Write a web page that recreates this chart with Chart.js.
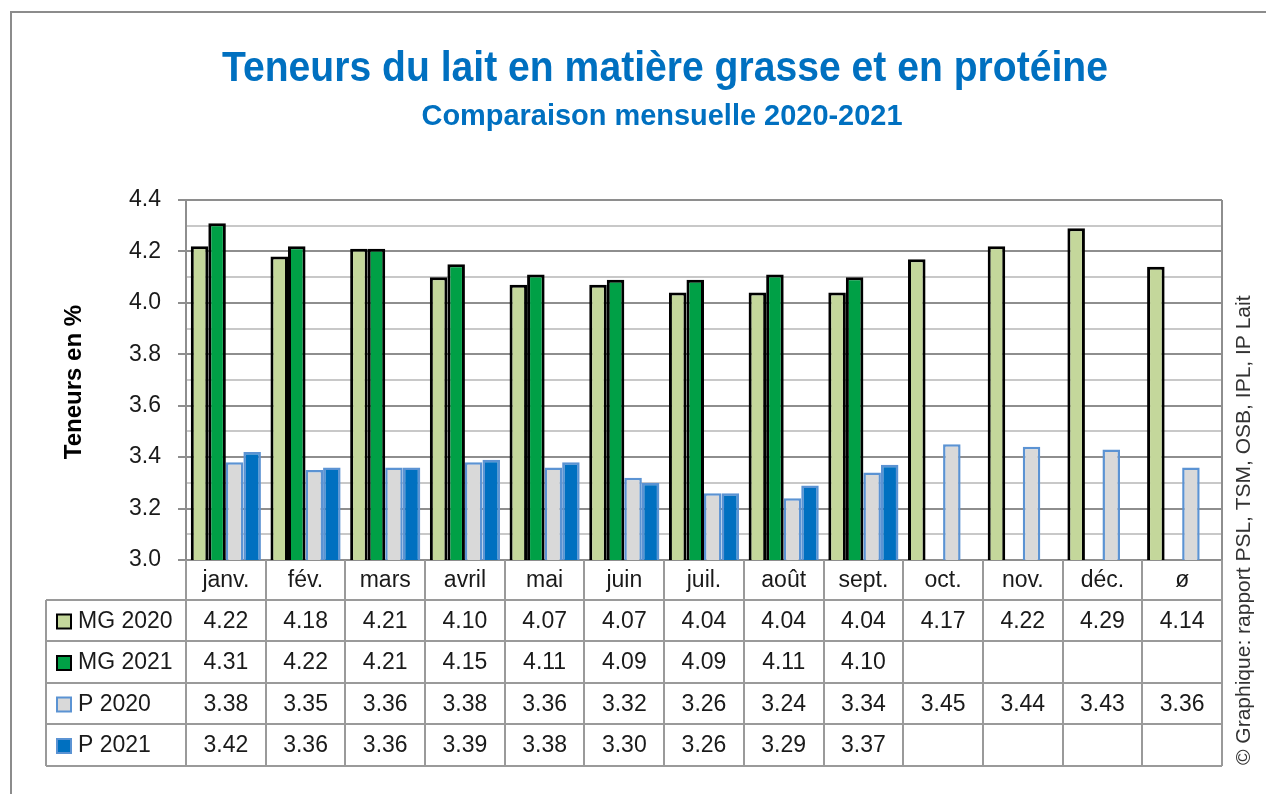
<!DOCTYPE html>
<html>
<head>
<meta charset="utf-8">
<script src="https://cdn.jsdelivr.net/npm/chart.js@4/dist/chart.umd.min.js"></script>
<style>
  html, body { margin: 0; padding: 0; background: #ffffff; }
  #wrap { position: relative; width: 1266px; height: 794px; }
</style>
</head>
<body>
<div id="wrap"><canvas id="c" width="1266" height="794"></canvas></div>
<script>
// ---- Data ----
const categories = ['janv.', 'fév.', 'mars', 'avril', 'mai', 'juin', 'juil.', 'août', 'sept.', 'oct.', 'nov.', 'déc.', 'ø'];
const mg2020 = [4.22, 4.18, 4.21, 4.10, 4.07, 4.07, 4.04, 4.04, 4.04, 4.17, 4.22, 4.29, 4.14];
const mg2021 = [4.31, 4.22, 4.21, 4.15, 4.11, 4.09, 4.09, 4.11, 4.10, null, null, null, null];
const p2020  = [3.38, 3.35, 3.36, 3.38, 3.36, 3.32, 3.26, 3.24, 3.34, 3.45, 3.44, 3.43, 3.36];
const p2021  = [3.42, 3.36, 3.36, 3.39, 3.38, 3.30, 3.26, 3.29, 3.37, null, null, null, null];
const seriesNames = ['MG 2020', 'MG 2021', 'P 2020', 'P 2021'];
const yMin = 3.0, yMax = 4.4, yStep = 0.1;

const titleText = 'Teneurs du lait en matière grasse et en protéine';
const subtitleText = 'Comparaison mensuelle 2020-2021';
const yTitle = 'Teneurs en %';
const sourceText = '© Graphique: rapport PSL, TSM, OSB, IPL, IP Lait';

const FONT = '"Liberation Sans", Arial, "DejaVu Sans", sans-serif';
const BLUE = '#0070C0';
const GRID_MAJOR = '#8e8e8e';
const GRID_MINOR = '#c8c8c8';
const TABLE_LINE = '#9a9a9a';

const decorPlugin = {
  id: 'decor',
  afterDraw(chart) {
    const ctx = chart.ctx;
    const area = chart.chartArea;
    const xs = chart.scales.x;
    const n = categories.length;
    const colW = (area.right - area.left) / n;
    const tableLeft = 46;
    const headerBottom = 600;
    const rowBounds = [600, 641, 683, 724, 766];

    ctx.save();
    // outer frame
    ctx.strokeStyle = '#8c8c8c';
    ctx.lineWidth = 2;
    ctx.beginPath();
    ctx.moveTo(11, 794); ctx.lineTo(11, 12); ctx.lineTo(1266, 12);
    ctx.stroke();

    // right border of plot
    ctx.strokeStyle = GRID_MAJOR;
    ctx.beginPath();
    ctx.moveTo(area.right, area.top); ctx.lineTo(area.right, area.bottom);
    ctx.stroke();

    // table lines
    ctx.strokeStyle = TABLE_LINE;
    ctx.lineWidth = 2;
    ctx.beginPath();
    for (let i = 0; i <= n; i++) {
      const x = Math.round(area.left + i * colW);
      ctx.moveTo(x, area.bottom); ctx.lineTo(x, rowBounds[rowBounds.length - 1]);
    }
    ctx.moveTo(tableLeft, headerBottom); ctx.lineTo(tableLeft, rowBounds[rowBounds.length - 1]);
    for (const y of rowBounds) {
      ctx.moveTo(tableLeft, y); ctx.lineTo(area.right, y);
    }
    ctx.stroke();

    // header labels
    ctx.fillStyle = '#1a1a1a';
    ctx.font = '23px ' + FONT;
    ctx.textAlign = 'center';
    ctx.textBaseline = 'middle';
    categories.forEach((c, i) => {
      ctx.fillText(c, xs.getPixelForValue(i), (area.bottom + headerBottom) / 2 + 1);
    });

    // rows
    chart.data.datasets.forEach((ds, r) => {
      const yc = (rowBounds[r] + rowBounds[r + 1]) / 2 + 1;
      // legend key
      ctx.fillStyle = ds.backgroundColor;
      ctx.fillRect(57, yc - 7, 14, 14);
      ctx.strokeStyle = ds.borderColor;
      ctx.lineWidth = 2;
      ctx.strokeRect(57, yc - 7, 14, 14);
      ctx.fillStyle = '#1a1a1a';
      ctx.textAlign = 'left';
      ctx.fillText(seriesNames[r], 78, yc);
      ctx.textAlign = 'center';
      ds.data.forEach((v, i) => {
        if (v === null || v === undefined) return;
        ctx.fillText(v.toFixed(2), xs.getPixelForValue(i), yc);
      });
    });

    // titles
    ctx.fillStyle = BLUE;
    ctx.textAlign = 'center';
    ctx.textBaseline = 'alphabetic';
    ctx.font = 'bold 42px ' + FONT;
    ctx.fillText(titleText, 665, 81, 886);
    ctx.font = 'bold 29px ' + FONT;
    ctx.fillText(subtitleText, 662, 125, 481);

    // y axis title
    ctx.fillStyle = '#000';
    ctx.font = 'bold 24px ' + FONT;
    ctx.save();
    ctx.translate(81, (area.top + area.bottom) / 2 + 2);
    ctx.rotate(-Math.PI / 2);
    ctx.textAlign = 'center';
    ctx.textBaseline = 'alphabetic';
    ctx.fillText(yTitle, 0, 0);
    ctx.restore();

    // source text
    ctx.fillStyle = '#333';
    ctx.font = '21px ' + FONT;
    ctx.save();
    ctx.translate(1250, 765);
    ctx.rotate(-Math.PI / 2);
    ctx.textAlign = 'left';
    ctx.textBaseline = 'alphabetic';
    ctx.fillText(sourceText, 0, 0, 476);
    ctx.restore();

    ctx.restore();
  }
};

new Chart(document.getElementById('c'), {
  type: 'bar',
  data: {
    labels: categories,
    datasets: [
      { label: seriesNames[0], data: mg2020, backgroundColor: '#C4D79B', borderColor: '#000000', borderWidth: 3 },
      { label: seriesNames[1], data: mg2021, backgroundColor: '#00A046', borderColor: '#000000', borderWidth: 3 },
      { label: seriesNames[2], data: p2020, backgroundColor: '#D9D9D9', borderColor: '#5B93D3', borderWidth: 2.5 },
      { label: seriesNames[3], data: p2021, backgroundColor: '#0070C0', borderColor: '#5B93D3', borderWidth: 2.5 }
    ]
  },
  options: {
    responsive: false,
    animation: false,
    devicePixelRatio: 1,
    layout: { padding: { top: 200, right: 44, left: 0, bottom: 0 } },
    datasets: { bar: { categoryPercentage: 0.88, barPercentage: 1.0, borderSkipped: 'bottom' } },
    plugins: {
      legend: { display: false },
      title: { display: false },
      tooltip: { enabled: false }
    },
    scales: {
      x: {
        grid: { display: false },
        border: { display: false },
        ticks: { display: false },
        afterFit(s) { s.height = 234; }
      },
      y: {
        min: yMin,
        max: yMax,
        ticks: {
          stepSize: yStep,
          padding: 17,
          color: '#1a1a1a',
          font: { size: 23, family: FONT },
          autoSkip: false,
          callback: (v, i) => (i % 2 === 0 ? Number(v).toFixed(1) : '')
        },
        grid: {
          color: (c) => (c.index % 2 === 0 ? GRID_MAJOR : GRID_MINOR),
          tickColor: (c) => (c.index % 2 === 0 ? GRID_MAJOR : 'rgba(0,0,0,0)'),
          lineWidth: 2,
          tickLength: 8
        },
        border: { color: GRID_MAJOR, width: 2 },
        afterFit(s) { s.width = 186; }
      }
    }
  },
  plugins: [decorPlugin]
});
</script>
</body>
</html>
